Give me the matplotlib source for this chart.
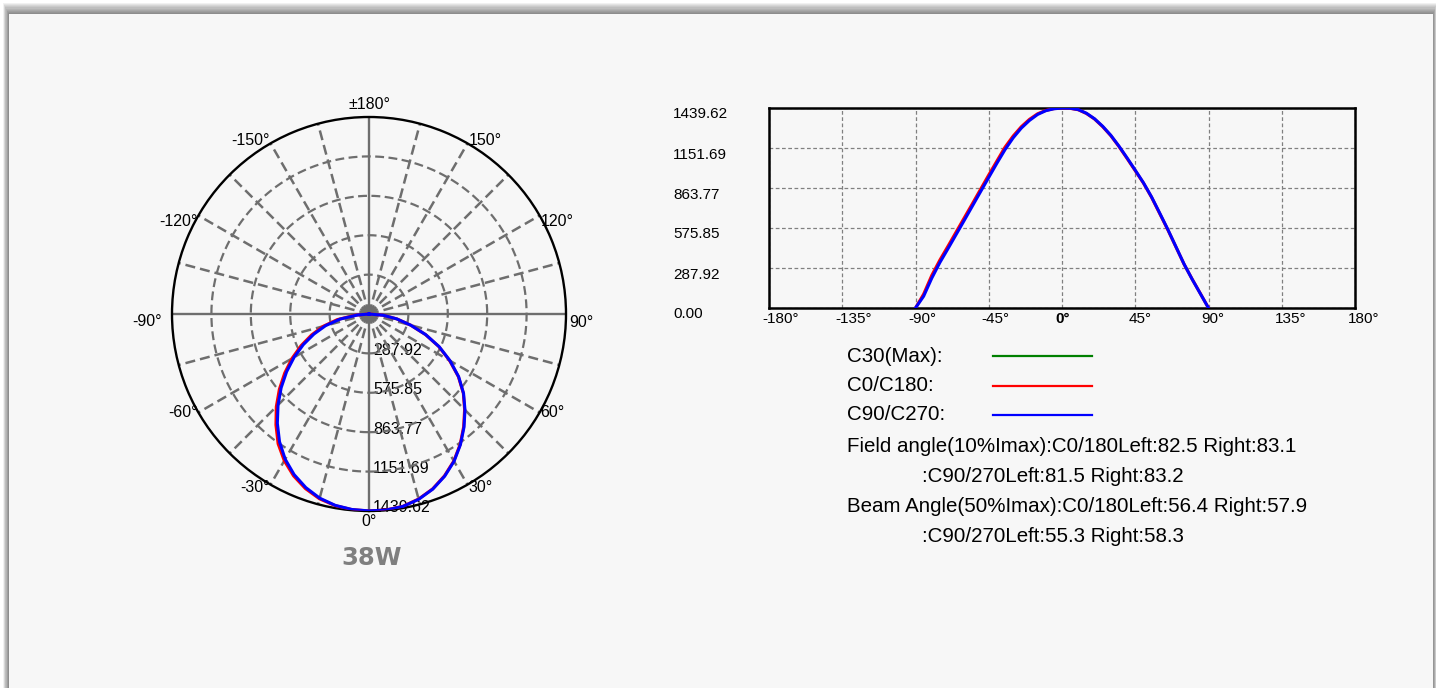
import numpy as np
import matplotlib
matplotlib.use("Agg")
import matplotlib.pyplot as plt
from matplotlib.patches import Rectangle
from matplotlib.lines import Line2D
from matplotlib.transforms import offset_copy, ScaledTranslation

plt.rcParams['font.family'] = ['Liberation Sans', 'DejaVu Sans']

W, H = 1436, 688

# ─── data ───
I_MAX = 1439.62
ring_values = [287.92, 575.85, 863.77, 1151.69, 1439.62]
gamma = list(range(-90, 91, 5))
c0_c180 = [0, 100, 235, 346, 446, 548, 650, 752, 855, 958, 1058, 1158, 1238,
           1305, 1358, 1398, 1422, 1435, 1439.62, 1437, 1427, 1400, 1360, 1305,
           1240, 1162, 1076, 988, 900, 797, 680, 563, 439, 315, 207, 104, 0]
c90_c270 = [0, 85, 215, 328, 428, 530, 632, 735, 838, 940, 1042, 1140, 1225,
            1295, 1350, 1393, 1420, 1434, 1439, 1438, 1428, 1402, 1362, 1308,
            1243, 1165, 1080, 992, 902, 800, 684, 566, 441, 316, 206, 103, 0]
angle_ticks = [0, 30, 60, 90, 120, 150, 180, -150, -120, -90, -60, -30]
x_ticks = [-180, -135, -90, -45, 0, 45, 90, 135, 180]
series_names = ["C30(Max):", "C0/C180:", "C90/C270:"]
series_colors = ["#008000", "#ff0000", "#0000ff"]
field_c0 = [82.5, 83.1]
field_c90 = [81.5, 83.2]
beam_c0 = [56.4, 57.9]
beam_c90 = [55.3, 58.3]
power_label = "38W"

GRID = '#6e6e6e'

fig = plt.figure(figsize=(W / 100, H / 100), dpi=100, facecolor='white')


def fx(x):
    return x / W


def fy(y):
    return 1 - y / H


# panel with soft shadow (heavier on top, as in the page screenshot)
for d in range(10, 0, -1):
    fig.add_artist(Rectangle((fx(9 - d * 0.6), 0), fx(1424 + d * 1.0), (674 + d * 1.1) / H,
                             transform=fig.transFigure, facecolor='black',
                             alpha=0.055, edgecolor='none', zorder=0))
fig.add_artist(Rectangle((fx(9), 0), fx(1424), 674 / H, transform=fig.transFigure,
                         facecolor='#f7f7f7', edgecolor='none', zorder=0))

# ─── polar diagram ───
axp = fig.add_axes([fx(172), fy(511), fx(394), 394 / H], projection='polar')
axp.set_theta_zero_location('S')
axp.set_theta_direction(1)
axp.set_ylim(0, I_MAX)
axp.set_facecolor('none')
axp.grid(False)
axp.set_xticks([])
axp.set_yticks([])
axp.spines['polar'].set_linewidth(1.7)
axp.spines['polar'].set_color('black')

th = np.linspace(0, 2 * np.pi, 721)
for r in ring_values[:-1]:
    axp.plot(th, np.full_like(th, r), color=GRID, lw=1.6, ls=(0, (4, 2)), zorder=2)
for a in range(0, 360, 15):
    if a % 90 == 0:
        axp.plot([np.deg2rad(a)] * 2, [0, I_MAX], color=GRID, lw=1.7, zorder=2)
    else:
        axp.plot([np.deg2rad(a)] * 2, [0, I_MAX], color=GRID, lw=1.8,
                 ls=(0, (4, 2)), zorder=2)

axp.plot(np.deg2rad(gamma), c0_c180, color=series_colors[1], lw=2.2, zorder=4)
axp.plot(np.deg2rad(gamma), c90_c270, color=series_colors[2], lw=2.2, zorder=5)

pt = 0.72
offsets = {0: (0, -3), 30: (1, -3), 60: (1, 0), 90: (3, -8), 120: (1, -6),
           150: (1, 3), 180: (0, 5), -150: (-1, 3), -120: (-1, -6),
           -90: (-10, -8), -60: (-1, 0), -30: (-1, -3)}
for a in angle_ticks:
    lab = "±180°" if a == 180 else f"{a}°"
    if a == 0:
        ha, va = 'center', 'top'
    elif a == 180:
        ha, va = 'center', 'bottom'
    elif a > 0:
        ha, va = 'left', 'center'
    else:
        ha, va = 'right', 'center'
    dx, dy = offsets[a]
    tr = offset_copy(axp.transData, fig=fig, x=dx * pt, y=dy * pt, units='points')
    axp.text(np.deg2rad(a), I_MAX, lab, transform=tr, ha=ha, va=va,
             fontsize=11.5, color='black', zorder=6)

for v in ring_values:
    tr = offset_copy(axp.transData, fig=fig, x=4 * pt, y=3 * pt, units='points')
    axp.text(0, v, f"{v:.2f}", transform=tr, ha='left', va='center',
             fontsize=11.5, color='black', zorder=1)

fig.text(fx(372), fy(558), power_label, ha='center', va='center', fontsize=17.5,
         fontweight='bold', color='#7f7f7f', family='DejaVu Sans')

# ─── cartesian diagram ───
axc = fig.add_axes([fx(769), fy(308), fx(586), 200 / H])
axc.set_facecolor('none')
axc.set_xlim(-180, 180)
axc.set_ylim(0, I_MAX)
axc.plot(gamma, c0_c180, color=series_colors[1], lw=2.2, zorder=3)
axc.plot(gamma, c90_c270, color=series_colors[2], lw=2.2, zorder=4)
axc.set_xticks(x_ticks)
axc.set_xticklabels([f"{t}°" for t in x_ticks])
axc.set_yticks([0] + ring_values)
axc.set_yticklabels([f"{v:.2f}" for v in [0] + ring_values])
axc.grid(True, color='#808080', lw=0.9, ls=(0, (3, 2)))
for s in axc.spines.values():
    s.set_linewidth(1.8)
    s.set_color('black')
axc.tick_params(length=0, labelsize=11)
axc.tick_params(axis='x', pad=3)
axc.tick_params(axis='y', pad=69)
yshift = ScaledTranslation(0, -5 / 100, fig.dpi_scale_trans)
for lbl in axc.get_yticklabels():
    lbl.set_horizontalalignment('left')
    lbl.set_transform(lbl.get_transform() + yshift)
xshift = ScaledTranslation(-7 / 100, 0, fig.dpi_scale_trans)
for lbl in axc.get_xticklabels():
    lbl.set_horizontalalignment('left')
    lbl.set_transform(lbl.get_transform() + xshift)
    if lbl.get_text() == "0°":
        lbl.set_fontweight('bold')

# ─── legend / angle info ───
FS = 14.8
for i, (name, col) in enumerate(zip(series_names, series_colors)):
    y = 356 + i * 29.5
    fig.text(fx(847), fy(y), name, ha='left', va='center', fontsize=FS)
    fig.add_artist(Line2D([fx(993), fx(1092)], [fy(y), fy(y)], color=col, lw=1.6,
                          transform=fig.transFigure))

fig.text(fx(847), fy(447),
         f"Field angle(10%Imax):C0/180Left:{field_c0[0]} Right:{field_c0[1]}",
         ha='left', va='center', fontsize=FS)
fig.text(fx(922), fy(477), f":C90/270Left:{field_c90[0]} Right:{field_c90[1]}",
         ha='left', va='center', fontsize=FS)
fig.text(fx(847), fy(507),
         f"Beam Angle(50%Imax):C0/180Left:{beam_c0[0]} Right:{beam_c0[1]}",
         ha='left', va='center', fontsize=FS)
fig.text(fx(922), fy(537), f":C90/270Left:{beam_c90[0]} Right:{beam_c90[1]}",
         ha='left', va='center', fontsize=FS)

fig.savefig("out.png", dpi=100, facecolor='white')
